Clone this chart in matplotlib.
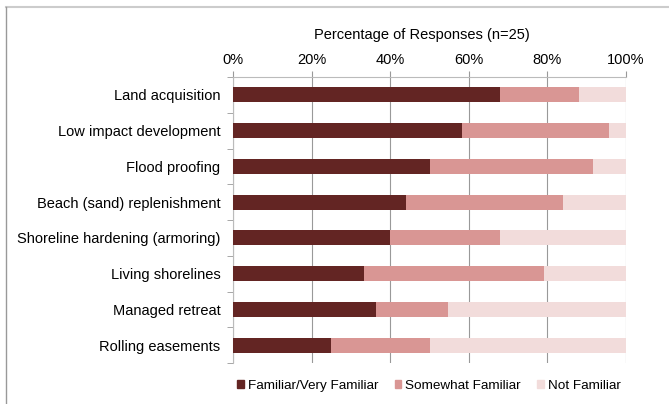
import numpy as np
import matplotlib.pyplot as plt
from matplotlib.patches import Patch
from matplotlib.lines import Line2D
from matplotlib.ticker import PercentFormatter

plt.rcParams['font.family'] = ['Liberation Sans', 'DejaVu Sans']

strategies = ["Land acquisition", "Low impact development", "Flood proofing",
              "Beach (sand) replenishment", "Shoreline hardening (armoring)",
              "Living shorelines", "Managed retreat", "Rolling easements"]
familiar = [68.0, 58.3, 50.0, 44.0, 40.0, 33.3, 36.4, 25.0]
somewhat = [20.0, 37.5, 41.7, 40.0, 28.0, 45.8, 18.2, 25.0]
not_familiar = [12.0, 4.2, 8.3, 16.0, 32.0, 20.8, 45.5, 50.0]

series = ["Familiar/Very Familiar", "Somewhat Familiar", "Not Familiar"]
colors = ["#632523", "#d99694", "#f2dcdb"]

fig = plt.figure(figsize=(6.69, 4.04), dpi=100)
ax = fig.add_axes([233 / 669, 41 / 404, 393 / 669, 286 / 404])

y = np.arange(len(strategies))
left = np.zeros(len(strategies))
for vals, c in zip([familiar, somewhat, not_familiar], colors):
    ax.barh(y, vals, left=left, height=0.42, color=c, zorder=3)
    left += np.array(vals)

ax.set_xlim(0, 100)
ax.set_ylim(len(strategies) - 0.5, -0.5)
ax.xaxis.tick_top()
ax.set_xticks(np.arange(0, 101, 20))
ax.xaxis.set_major_formatter(PercentFormatter(decimals=0))
ax.tick_params(axis='x', length=4, color='#999999', labelsize=10.5, pad=3)
ax.grid(axis='x', color='#999999', linewidth=0.8, zorder=0)

ax.set_yticks(y)
ax.set_yticklabels(strategies, fontsize=10.5)
ax.set_yticks(np.arange(-0.5, len(strategies), 1), minor=True)
ax.tick_params(axis='y', which='major', length=0, pad=9)
ax.tick_params(axis='y', which='minor', length=4, color='#999999')

for s in ['right', 'bottom']:
    ax.spines[s].set_visible(False)
ax.spines['top'].set_color('#bbbbbb')
ax.spines['left'].set_color('#bbbbbb')

fig.text(422 / 669, 1 - 35 / 404, "Percentage of Responses (n=25)",
         ha='center', va='center', fontsize=10.5)

handles = [Patch(color=c, label=s) for c, s in zip(colors, series)]
fig.legend(handles=handles, loc='center', bbox_to_anchor=(429 / 669, 1 - 386 / 404),
           ncol=3, frameon=False, fontsize=9.7, handlelength=0.5, handleheight=0.5,
           handletextpad=0.3, columnspacing=1.2)

# frame lines along the top and left edge
fig.add_artist(Line2D([6 / 669, 1], [1 - 7 / 404, 1 - 7 / 404],
                      color='#cccccc', linewidth=1.5, transform=fig.transFigure))
fig.add_artist(Line2D([6.5 / 669, 6.5 / 669], [0, 1 - 7 / 404],
                      color='#999999', linewidth=1.0, transform=fig.transFigure))

fig.savefig("out.png", dpi=100)
